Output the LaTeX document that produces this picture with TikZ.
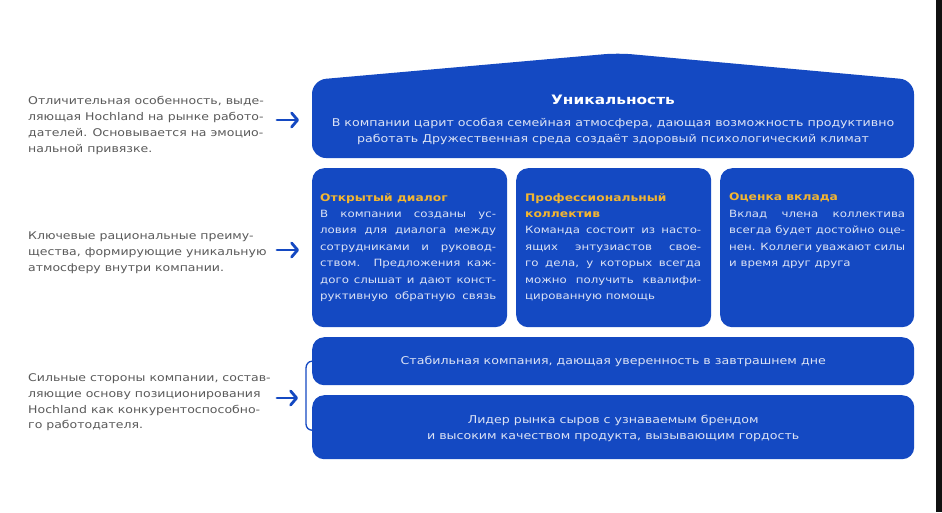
\documentclass[tikz,border=0pt]{standalone}
\usepackage{fontspec}
\setmainfont{DejaVu Sans}[FakeStretch=1.18]
\usetikzlibrary{arrows.meta}
\definecolor{hblue}{HTML}{1449C2}
\definecolor{hgold}{HTML}{F2B531}
\definecolor{hgray}{HTML}{5A5A5A}
\definecolor{htext}{HTML}{DCE3F5}
\definecolor{hdark}{HTML}{111111}
\newcommand{\jline}[1]{\makebox[176pt][s]{#1}}
\newcommand{\btitle}[1]{{\color{hgold}\bfseries\fontsize{10.4}{16.4}\selectfont #1}}
\tikzset{
  lefttext/.style={anchor=north west, align=left, text=hgray, inner sep=0pt,
    font=\fontsize{10.6}{15.8}\selectfont},
  bluebox/.style={fill=hblue, draw=none, rounded corners=12pt, inner sep=0pt, anchor=north west},
  boxtext/.style={anchor=north west, align=left, text=htext, inner sep=0pt,
    font=\fontsize{10}{16.4}\selectfont},
  ctext/.style={align=center, text=htext, inner sep=0pt,
    font=\fontsize{10.7}{16.5}\selectfont},
  arr/.style={draw=hblue, line width=2.8pt, line cap=round,
    -{Straight Barb[length=6pt,width=14pt,line width=2.8pt,round]}},
}
\begin{document}
\begin{tikzpicture}[x=1pt,y=-1pt]
\useasboundingbox (0,0) rectangle (942,512);
\fill[white] (0,0) rectangle (942,512);
\fill[hdark] (936,0) rectangle (942,512);

% top "roof" box
\fill[hblue, rounded corners=14pt] (312,158) -- (312,80) -- (618,53) -- (914,80) -- (914,158) -- cycle;
\node[text=white, font=\fontsize{13}{16}\bfseries\selectfont, inner sep=0pt] (uniq) at (613,100) {Уникальность};
\node[ctext, anchor=north] (uniqt) at (613,117.5) {В компании царит особая семейная атмосфера, дающая возможность продуктивно\\работать Дружественная среда создаёт здоровый психологический климат};

% middle boxes
\node[bluebox, minimum width=195pt, minimum height=159pt] (b1) at (312,168) {};
\node[bluebox, minimum width=195pt, minimum height=159pt] (b2) at (516,168) {};
\node[bluebox, minimum width=194pt, minimum height=159pt] (b3) at (720,168) {};

\node[boxtext] (t1) at (320,193) {\btitle{Открытый диалог}\\
\jline{В компании созданы ус-}\\\jline{ловия для диалога между}\\\jline{сотрудниками и руковод-}\\\jline{ством. Предложения каж-}\\\jline{дого слышат и дают конст-}\\\jline{руктивную обратную связь}};
\node[boxtext] (t2) at (525,193) {\btitle{Профессиональный}\\\btitle{коллектив}\\
\jline{Команда состоит из насто-}\\\jline{ящих энтузиастов свое-}\\\jline{го дела, у которых всегда}\\\jline{можно получить квалифи-}\\цированную помощь};
\node[boxtext] (t3) at (729,193) {\btitle{Оценка вклада}\\
\jline{Вклад члена коллектива}\\\jline{всегда будет достойно оце-}\\\jline{нен. Коллеги уважают силы}\\и время друг друга};

% bottom boxes
\node[bluebox, minimum width=602pt, minimum height=48pt] (s1) at (312,337) {};
\node[bluebox, minimum width=602pt, minimum height=64pt] (s2) at (312,395) {};
\node[ctext] (s1t) at (s1.center) {Стабильная компания, дающая уверенность в завтрашнем дне};
\node[ctext] (s2t) at ([yshift=-1pt]s2.center) {Лидер рынка сыров с узнаваемым брендом\\и высоким качеством продукта, вызывающим гордость};

% bracket
\draw[hblue, line width=1.3pt] (s1.west) to[out=180,in=90] (306,368) -- (306,424) to[out=-90,in=180] ([yshift=-3pt]s2.west);

% left texts
\node[lefttext] (l1) at (28,96.5) {Отличительная особенность, выде-\\ляющая Hochland на рынке работо-\\дателей. Основывается на эмоцио-\\нальной привязке.};
\node[lefttext] (l2) at (28,231.5) {Ключевые рациональные преиму-\\щества, формирующие уникальную\\атмосферу внутри компании.};
\node[lefttext] (l3) at (28,373.5) {Сильные стороны компании, состав-\\ляющие основу позиционирования\\Hochland как конкурентоспособно-\\го работодателя.};

% arrows
\coordinate (a1s) at (277,120); \coordinate (a1e) at (299,120);
\coordinate (a2s) at (277,250); \coordinate (a2e) at (299,250);
\coordinate (a3s) at (277,398); \coordinate (a3e) at (298,398);
\draw[arr] (a1s) -- (a1e);
\draw[arr] (a2s) -- (a2e);
\draw[arr] (a3s) -- (a3e);
\end{tikzpicture}
\end{document}
